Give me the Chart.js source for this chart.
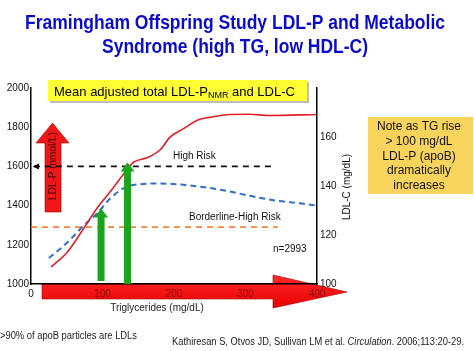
<!DOCTYPE html>
<html>
<head>
<meta charset="utf-8">
<script src="https://cdn.jsdelivr.net/npm/chart.js@4/dist/chart.umd.min.js"></script>
<style>
  html, body { margin: 0; padding: 0; background: #fff; }
  #wrap { width: 474px; height: 351px; }
</style>
</head>
<body>
<div id="wrap"><canvas id="chart" width="474" height="351"></canvas></div>
<script>
// LDL-P (nmol/L) by triglycerides, left axis
const ldlpTG = [28, 51, 74, 93, 111, 129, 143, 163, 181, 194, 212, 236, 250, 278, 306, 333, 399];
const ldlP   = [1087, 1163, 1286, 1390, 1472, 1559, 1620, 1645, 1686, 1748, 1790, 1840, 1850, 1865, 1866, 1860, 1865];

// LDL-C (mg/dL) by triglycerides, right axis
const ldlcTG = [25, 51, 74, 93, 111, 129, 143, 181, 240, 274, 306, 343, 375, 399];
const ldlC   = [110.6, 117, 124, 129, 135, 139, 140.4, 141, 139.6, 138, 136, 134, 133, 132];

// reference risk lines (LDL-P)
const highRiskTG = [4, 337];
const highRisk = [1600, 1600];
const borderTG = [0, 345];
const borderRisk = [1290, 1290];

// green arrows: TG position and LDL-P reached
const arrowTG = [98, 135];
const arrowTop = [1385, 1620];

// axis ticks
const xTicks = [0, 100, 200, 300, 400];
const leftTicks = [1000, 1200, 1400, 1600, 1800, 2000];
const rightTicks = [100, 120, 140, 160];

const noteLines = ['Note as TG rise', '> 100 mg/dL', 'LDL-P (apoB)', 'dramatically', 'increases'];

const FONT = '"Liberation Sans", Arial, sans-serif';

const pts = (xs, ys) => xs.map((x, i) => ({ x: x, y: ys[i] }));

// squeeze a piece of text into a given width (slide text is condensed)
const fitText = (ctx, text, x, y, w) => {
    const m = ctx.measureText(text).width;
    ctx.save();
    ctx.translate(x, y);
    ctx.scale(Math.min(1, w / m), 1);
    ctx.fillText(text, 0, 0);
    ctx.restore();
};

// draws everything that is not a dataset
const decor = {
    id: 'decor',
    beforeDraw(chart) {
        const ctx = chart.ctx;
        const area = chart.chartArea;
        const xs = chart.scales.x;
        ctx.save();
        ctx.fillStyle = '#fff';
        ctx.fillRect(0, 0, chart.width, chart.height);

        // title
        ctx.fillStyle = '#0b0bcc';
        ctx.font = 'bold 21px ' + FONT;
        ctx.textAlign = 'center';
        ctx.textBaseline = 'middle';
        fitText(ctx, 'Framingham Offspring Study LDL-P and Metabolic', 235, 23, 420);
        fitText(ctx, 'Syndrome (high TG, low HDL-C)', 235, 47, 266);

        // yellow caption box
        ctx.fillStyle = '#bdbdbd';
        ctx.fillRect(50, 82, 259, 21);
        ctx.fillStyle = '#ffff33';
        ctx.fillRect(48, 80, 259, 21);
        ctx.fillStyle = '#000';
        ctx.textAlign = 'left';
        ctx.font = '13px ' + FONT;
        let tx = 54;
        const ty = 92;
        ctx.fillText('Mean adjusted total LDL-P', tx, ty);
        tx += ctx.measureText('Mean adjusted total LDL-P').width;
        ctx.font = '9px ' + FONT;
        ctx.fillText('NMR', tx, ty + 4);
        tx += ctx.measureText('NMR').width;
        ctx.font = '13px ' + FONT;
        ctx.fillText(' and LDL-C', tx, ty);

        // note box
        ctx.fillStyle = '#f8d45c';
        ctx.fillRect(368, 117, 105, 77);
        ctx.fillStyle = '#111';
        ctx.textAlign = 'center';
        ctx.font = '12px ' + FONT;
        noteLines.forEach((l, i) => ctx.fillText(l, 419, 127 + i * 14.6));

        // footer
        ctx.font = '10px ' + FONT;
        ctx.textAlign = 'left';
        ctx.fillStyle = '#222';
        fitText(ctx, '>90% of apoB particles are LDLs', 0, 336, 137);
        const parts = [['Kathiresan S, Otvos JD, Sullivan LM et al. ', ''], ['Circulation', 'italic '], ['. 2006;113:20-29.', '']];
        let full = 0;
        parts.forEach(p => { ctx.font = p[1] + '10px ' + FONT; full += ctx.measureText(p[0]).width; });
        const k = 292 / full;
        ctx.save();
        ctx.translate(172, 342);
        ctx.scale(k, 1);
        let fx = 0;
        parts.forEach(p => {
            ctx.font = p[1] + '10px ' + FONT;
            ctx.fillText(p[0], fx, 0);
            fx += ctx.measureText(p[0]).width;
        });
        ctx.restore();

        // big red arrow under the x axis
        const y0 = area.bottom;
        const sx0 = 42, hx = 273, tip = xs.getPixelForValue(442);
        const g = ctx.createLinearGradient(0, y0 - 9, 0, y0 + 24);
        g.addColorStop(0, '#ff2a2a');
        g.addColorStop(1, '#e80000');
        ctx.beginPath();
        ctx.moveTo(sx0, y0);
        ctx.lineTo(hx, y0);
        ctx.lineTo(hx, y0 - 9);
        ctx.lineTo(tip, y0 + 8);
        ctx.lineTo(hx, y0 + 24);
        ctx.lineTo(hx, y0 + 15);
        ctx.lineTo(sx0, y0 + 15);
        ctx.closePath();
        ctx.fillStyle = g;
        ctx.fill();
        ctx.strokeStyle = '#a00000';
        ctx.lineWidth = 0.6;
        ctx.stroke();

        ctx.fillStyle = '#222';
        ctx.textAlign = 'center';
        ctx.font = '10px ' + FONT;
        ctx.fillText('Triglycerides (mg/dL)', 157, 308);
        ctx.restore();
    },
    beforeDatasetsDraw(chart) {
        const ctx = chart.ctx;
        // red LDL-P arrow on the left
        ctx.save();
        ctx.beginPath();
        ctx.moveTo(45, 212);
        ctx.lineTo(45, 143);
        ctx.lineTo(36, 143);
        ctx.lineTo(52.5, 123);
        ctx.lineTo(69, 143);
        ctx.lineTo(61, 143);
        ctx.lineTo(61, 212);
        ctx.closePath();
        ctx.fillStyle = '#f01818';
        ctx.fill();
        ctx.strokeStyle = '#b00000';
        ctx.lineWidth = 0.6;
        ctx.stroke();
        ctx.translate(53, 166);
        ctx.rotate(-Math.PI / 2);
        ctx.fillStyle = '#3a0000';
        ctx.font = '10px ' + FONT;
        ctx.textAlign = 'center';
        ctx.textBaseline = 'middle';
        ctx.fillText('LDL-P (nmol/L)', 0, 0);
        ctx.restore();
    },
    afterDatasetsDraw(chart) {
        const ctx = chart.ctx;
        const xs = chart.scales.x, ys = chart.scales.y;
        ctx.save();
        // arrowhead on the high risk line
        const hy = ys.getPixelForValue(highRisk[0]);
        const hx = xs.getPixelForValue(highRiskTG[0]);
        ctx.beginPath();
        ctx.moveTo(hx - 1, hy);
        ctx.lineTo(hx + 5, hy - 3);
        ctx.lineTo(hx + 5, hy + 3);
        ctx.closePath();
        ctx.fillStyle = '#000';
        ctx.fill();

        // green arrows
        arrowTG.forEach((t, i) => {
            const cx = xs.getPixelForValue(t);
            const top = ys.getPixelForValue(arrowTop[i]);
            const bot = i === 0 ? 281 : 284;
            const sw = 3.5, hw = 7, hh = 9;
            ctx.beginPath();
            ctx.moveTo(cx - sw, bot);
            ctx.lineTo(cx - sw, top + hh);
            ctx.lineTo(cx - hw, top + hh);
            ctx.lineTo(cx, top);
            ctx.lineTo(cx + hw, top + hh);
            ctx.lineTo(cx + sw, top + hh);
            ctx.lineTo(cx + sw, bot);
            ctx.closePath();
            ctx.fillStyle = '#1aa51a';
            ctx.fill();
        });

        ctx.fillStyle = '#111';
        ctx.font = '10px ' + FONT;
        ctx.textAlign = 'left';
        ctx.textBaseline = 'middle';
        ctx.fillText('High Risk', 173, 156);
        ctx.fillText('Borderline-High Risk', 189, 217);
        ctx.fillText('n=2993', 273, 249);

        // right axis title, reading upwards
        ctx.translate(347, 187);
        ctx.rotate(-Math.PI / 2);
        ctx.textAlign = 'center';
        ctx.fillText('LDL-C (mg/dL)', 0, 0);
        ctx.restore();
    }
};

new Chart(document.getElementById('chart'), {
    type: 'line',
    data: {
        datasets: [
            {
                label: 'LDL-P',
                data: pts(ldlpTG, ldlP),
                yAxisID: 'y',
                borderColor: '#e3202a',
                borderWidth: 1.6,
                pointRadius: 0,
                cubicInterpolationMode: 'monotone'
            },
            {
                label: 'LDL-C',
                data: pts(ldlcTG, ldlC),
                yAxisID: 'y2',
                borderColor: '#2f6fc4',
                borderWidth: 2,
                borderDash: [6, 4],
                pointRadius: 0,
                cubicInterpolationMode: 'monotone'
            },
            {
                label: 'High Risk',
                data: pts(highRiskTG, highRisk),
                yAxisID: 'y',
                borderColor: '#111',
                borderWidth: 1.6,
                borderDash: [6, 5],
                pointRadius: 0
            },
            {
                label: 'Borderline-High Risk',
                data: pts(borderTG, borderRisk),
                yAxisID: 'y',
                borderColor: '#f0873a',
                borderWidth: 1.6,
                borderDash: [6, 5],
                pointRadius: 0
            }
        ]
    },
    options: {
        responsive: false,
        animation: false,
        layout: { padding: { top: 88, left: 0, right: 0, bottom: 0 } },
        plugins: { legend: { display: false }, tooltip: { enabled: false } },
        scales: {
            x: {
                type: 'linear',
                min: 0,
                max: 400,
                afterBuildTicks: s => { s.ticks = xTicks.map(v => ({ value: v })); },
                afterFit: s => { s.height = 351 - 284; },
                grid: { display: false, drawTicks: false },
                border: { color: '#000', width: 1.5 },
                ticks: {
                    padding: 4,
                    font: { family: FONT, size: 10 },
                    color: c => c.index === 0 ? '#111' : '#8a0a0a',
                    callback: v => String(v)
                }
            },
            y: {
                position: 'left',
                min: 1000,
                max: 2000,
                afterBuildTicks: s => { s.ticks = leftTicks.map(v => ({ value: v })); },
                afterFit: s => { s.width = 31; },
                grid: { display: false, drawTicks: false },
                border: { color: '#000', width: 1.5 },
                ticks: { padding: 2, font: { family: FONT, size: 10 }, color: '#111', callback: v => String(v) }
            },
            y2: {
                position: 'right',
                min: 100,
                max: 180,
                afterBuildTicks: s => { s.ticks = rightTicks.map(v => ({ value: v })); },
                afterFit: s => { s.width = 474 - 317; },
                grid: { display: false, drawTicks: false },
                border: { color: '#000', width: 1.5 },
                ticks: { padding: 3, font: { family: FONT, size: 10 }, color: '#111', callback: v => String(v) }
            }
        }
    },
    plugins: [decor]
});
</script>
</body>
</html>
